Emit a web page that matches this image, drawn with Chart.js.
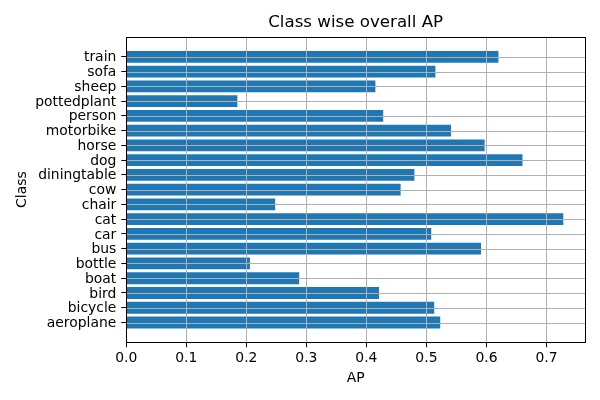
<!DOCTYPE html>
<html>
<head>
<meta charset="utf-8">
<script src="https://cdn.jsdelivr.net/npm/chart.js@4.4.1/dist/chart.umd.min.js"></script>
<style>
  html, body { margin: 0; padding: 0; background: #fff; }
  canvas { display: block; }
</style>
</head>
<body>
<canvas id="c" width="600" height="400"></canvas>
<script>
const classes = ["aeroplane", "bicycle", "bird", "boat", "bottle", "bus", "car", "cat", "chair", "cow",
                 "diningtable", "dog", "horse", "motorbike", "person", "pottedplant", "sheep", "sofa", "train"];
const apValues = [0.523, 0.513, 0.421, 0.288, 0.206, 0.591, 0.508, 0.728, 0.248, 0.457,
                  0.480, 0.660, 0.597, 0.541, 0.428, 0.185, 0.415, 0.515, 0.620];
const xTickValues = [0.0, 0.1, 0.2, 0.3, 0.4, 0.5, 0.6, 0.7];
const titleText = "Class wise overall AP";
const xTitle = "AP";
const yTitle = "Class";

Chart.defaults.font.family = "'DejaVu Sans', sans-serif";
Chart.defaults.font.size = 13.9;
Chart.defaults.color = "#000";

const overlayGrid = {
  id: "overlayGrid",
  afterDatasetsDraw(chart) {
    const ctx = chart.ctx;
    const a = chart.chartArea;
    const xs = chart.scales.x, ys = chart.scales.y;
    ctx.save();
    ctx.strokeStyle = "#b0b0b0";
    ctx.lineWidth = 1;
    ctx.beginPath();
    xTickValues.forEach(v => {
      const p = Math.round(xs.getPixelForValue(v)) + 0.5;
      ctx.moveTo(p, a.top); ctx.lineTo(p, a.bottom);
    });
    classes.forEach((c, i) => {
      const p = Math.round(ys.getPixelForValue(i)) + 0.5;
      ctx.moveTo(a.left, p); ctx.lineTo(a.right, p);
    });
    ctx.stroke();
    ctx.strokeStyle = "#000";
    ctx.lineWidth = 1;
    ctx.strokeRect(Math.round(a.left) + 0.5, Math.round(a.top) + 0.5,
                   Math.round(a.right) - Math.round(a.left), Math.round(a.bottom) - Math.round(a.top));
    ctx.restore();
  }
};

new Chart(document.getElementById("c"), {
  type: "bar",
  data: {
    datasets: [{
      data: classes.map((c, i) => ({ x: apValues[i], y: i })),
      backgroundColor: "#1f77b4",
      borderWidth: 0,
      barPercentage: 0.8,
      categoryPercentage: 1.0
    }]
  },
  options: {
    indexAxis: "y",
    responsive: false,
    animation: false,
    devicePixelRatio: 1,
    layout: { padding: { left: 0, right: 15, top: 0, bottom: 0 } },
    plugins: {
      legend: { display: false },
      tooltip: { enabled: false },
      title: {
        display: true,
        fullSize: false,
        text: titleText,
        color: "#000",
        font: { size: 16.67, weight: "normal", lineHeight: 1.2 },
        padding: { top: 12.5, bottom: 4.5 }
      }
    },
    scales: {
      x: {
        type: "linear",
        position: "bottom",
        min: 0,
        max: 0.7642,
        offset: false,
        afterBuildTicks: s => { s.ticks = xTickValues.map(v => ({ value: v })); },
        afterFit: s => { s.height = 57.7; },
        ticks: {
          callback: v => Number(v).toFixed(1),
          padding: 2.5,
          color: "#000",
          maxRotation: 0,
          autoSkip: false
        },
        grid: { offset: false, drawOnChartArea: false, drawTicks: true, tickLength: 5, tickColor: "#000", tickWidth: 1 },
        border: { display: true, color: "#000", width: 1 },
        title: { display: true, text: xTitle, color: "#000", font: { size: 13.9, lineHeight: 1.2 }, padding: { top: 0, bottom: 13.7 } }
      },
      y: {
        type: "linear",
        position: "left",
        min: -1.34,
        max: 19.34,
        offset: false,
        afterBuildTicks: s => { s.ticks = classes.map((c, i) => ({ value: i })); },
        afterFit: s => { s.width = 126.3; },
        ticks: {
          callback: v => classes[v],
          padding: 5,
          labelOffset: 1,
          color: "#000",
          autoSkip: false
        },
        grid: { offset: false, drawOnChartArea: false, drawTicks: true, tickLength: 5, tickColor: "#000", tickWidth: 1 },
        border: { display: true, color: "#000", width: 1 },
        title: { display: true, text: yTitle, color: "#000", font: { size: 13.9, lineHeight: 1.2 }, padding: { top: 14.2, bottom: 0 } }
      }
    }
  },
  plugins: [overlayGrid]
});
</script>
</body>
</html>
